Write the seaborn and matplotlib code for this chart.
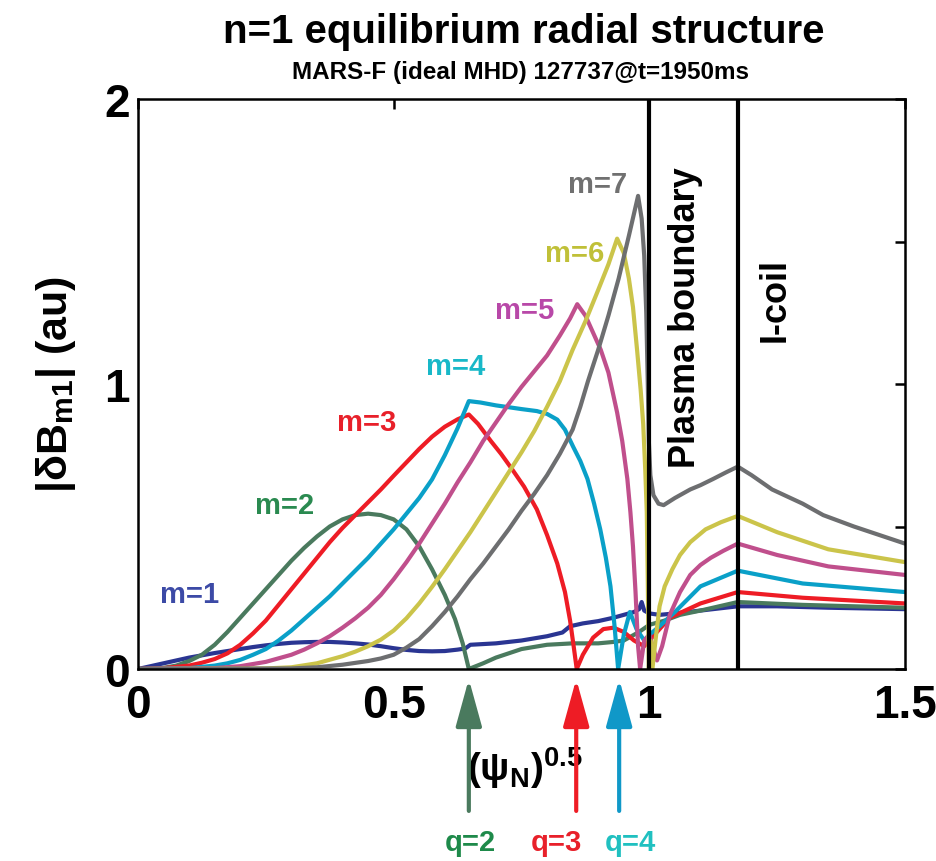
import numpy as np
import pandas as pd
import matplotlib
matplotlib.use("Agg")
import matplotlib.pyplot as plt
import seaborn as sns

# ---- poloidal harmonic amplitudes |dB_m1| versus (psi_N)^0.5 ----
m1_x = [0, 0.025, 0.05, 0.075, 0.1, 0.125, 0.15, 0.175, 0.2, 0.225, 0.25, 0.275, 0.3, 0.325,
        0.35, 0.375, 0.4, 0.425, 0.45, 0.475, 0.5, 0.525, 0.55, 0.575, 0.6, 0.625, 0.64, 0.65,
        0.7, 0.75, 0.8, 0.83, 0.845, 0.87, 0.9, 0.93, 0.95, 0.97, 0.98, 0.985, 0.99, 1.0, 1.02,
        1.05, 1.1, 1.173, 1.25, 1.35, 1.5]
m1_y = [0, 0.01, 0.02, 0.03, 0.04, 0.048, 0.056, 0.063, 0.07, 0.077, 0.083, 0.088, 0.092, 0.094,
        0.095, 0.095, 0.093, 0.09, 0.086, 0.08, 0.073, 0.067, 0.063, 0.062, 0.063, 0.068, 0.072,
        0.085, 0.09, 0.1, 0.115, 0.128, 0.15, 0.16, 0.168, 0.18, 0.19, 0.2, 0.21, 0.235, 0.205,
        0.195, 0.19, 0.195, 0.205, 0.22, 0.22, 0.215, 0.21]

m2_x = [0, 0.025, 0.05, 0.075, 0.1, 0.125, 0.15, 0.175, 0.2, 0.225, 0.25, 0.275, 0.3, 0.325,
        0.35, 0.375, 0.4, 0.425, 0.45, 0.475, 0.5, 0.525, 0.55, 0.575, 0.6, 0.62, 0.635, 0.647,
        0.675, 0.7, 0.75, 0.8, 0.85, 0.9, 0.93, 0.95, 0.98, 1.0, 1.03, 1.06, 1.1, 1.173, 1.3,
        1.5]
m2_y = [0, 0.0, 0.004, 0.012, 0.028, 0.05, 0.085, 0.13, 0.18, 0.23, 0.28, 0.33, 0.38, 0.425,
        0.465, 0.5, 0.525, 0.54, 0.545, 0.54, 0.525, 0.49, 0.43, 0.35, 0.26, 0.175, 0.09, 0.0,
        0.02, 0.04, 0.07, 0.085, 0.09, 0.09, 0.095, 0.1, 0.13, 0.155, 0.17, 0.19, 0.205, 0.235,
        0.225, 0.215]

m3_x = [0, 0.05, 0.1, 0.125, 0.15, 0.175, 0.2, 0.225, 0.25, 0.275, 0.3, 0.325, 0.35, 0.375, 0.4,
        0.425, 0.45, 0.475, 0.5, 0.525, 0.55, 0.575, 0.6, 0.625, 0.647, 0.665, 0.69, 0.71, 0.73,
        0.755, 0.78, 0.8, 0.82, 0.835, 0.845, 0.852, 0.858, 0.87, 0.89, 0.91, 0.93, 0.95, 0.97,
        0.99, 1.01, 1.04, 1.1, 1.173, 1.3, 1.5]
m3_y = [0, 0.003, 0.012, 0.022, 0.035, 0.055, 0.085, 0.125, 0.17, 0.225, 0.28, 0.335, 0.39,
        0.445, 0.495, 0.54, 0.585, 0.63, 0.678, 0.725, 0.772, 0.815, 0.85, 0.876, 0.893, 0.86,
        0.8, 0.755, 0.705, 0.64, 0.56, 0.47, 0.37, 0.27, 0.17, 0.08, 0.0, 0.05, 0.11, 0.14, 0.145,
        0.13, 0.1, 0.08, 0.12, 0.18, 0.23, 0.27, 0.25, 0.23]

m4_x = [0, 0.1, 0.15, 0.175, 0.2, 0.225, 0.25, 0.275, 0.3, 0.325, 0.35, 0.375, 0.4, 0.425, 0.45,
        0.475, 0.5, 0.525, 0.55, 0.575, 0.6, 0.625, 0.647, 0.67, 0.7, 0.75, 0.78, 0.8, 0.82,
        0.835, 0.851, 0.865, 0.879, 0.892, 0.904, 0.915, 0.924, 0.932, 0.939, 0.95, 0.962,
        0.975, 0.99, 1.0, 1.02, 1.05, 1.1, 1.173, 1.3, 1.5]
m4_y = [0, 0.003, 0.012, 0.02, 0.032, 0.05, 0.07, 0.1, 0.135, 0.175, 0.215, 0.255, 0.3, 0.345,
        0.39, 0.44, 0.49, 0.545, 0.6, 0.665, 0.75, 0.845, 0.94, 0.935, 0.925, 0.912, 0.905, 0.895,
        0.875, 0.84, 0.78, 0.73, 0.667, 0.58, 0.49, 0.39, 0.29, 0.15, 0.0, 0.12, 0.2, 0.14, 0.1,
        0.12, 0.15, 0.2, 0.29, 0.345, 0.3, 0.27]

m5_x = [0, 0.15, 0.2, 0.25, 0.3, 0.325, 0.35, 0.375, 0.4, 0.425, 0.45, 0.475, 0.5, 0.525, 0.55,
        0.575, 0.6, 0.625, 0.65, 0.675, 0.7, 0.725, 0.75, 0.775, 0.8, 0.825, 0.845, 0.859, 0.875,
        0.89, 0.905, 0.92, 0.937, 0.947, 0.957, 0.963, 0.968, 0.973, 0.978, 0.982, 0.99, 1.0,
        1.008, 1.015, 1.025, 1.04, 1.06, 1.08, 1.1, 1.12, 1.145, 1.173, 1.25, 1.35, 1.5]
m5_y = [0, 0.003, 0.01, 0.025, 0.05, 0.068, 0.09, 0.115, 0.145, 0.178, 0.215, 0.26, 0.315, 0.375,
        0.44, 0.51, 0.58, 0.655, 0.725, 0.8, 0.865, 0.93, 0.99, 1.045, 1.1, 1.17, 1.23, 1.28,
        1.24, 1.18, 1.12, 1.04, 0.9, 0.8, 0.667, 0.55, 0.43, 0.27, 0.08, 0.0, 0.1, 0.12, 0.07,
        0.03, 0.08, 0.19, 0.27, 0.33, 0.365, 0.39, 0.415, 0.44, 0.4, 0.36, 0.33]

m6_x = [0, 0.25, 0.3, 0.35, 0.4, 0.425, 0.45, 0.475, 0.5, 0.525, 0.55, 0.575, 0.6, 0.625, 0.65,
        0.675, 0.7, 0.725, 0.75, 0.775, 0.8, 0.825, 0.85, 0.875, 0.9, 0.92, 0.937, 0.95, 0.96,
        0.968, 0.976, 0.983, 0.988, 0.992, 0.995, 0.997, 0.999, 1.002, 1.006, 1.012, 1.02, 1.03,
        1.045, 1.06, 1.08, 1.11, 1.14, 1.173, 1.25, 1.35, 1.5]
m6_y = [0, 0.002, 0.006, 0.02, 0.045, 0.061, 0.08, 0.103, 0.135, 0.178, 0.23, 0.288, 0.35, 0.415,
        0.48, 0.55, 0.62, 0.69, 0.76, 0.835, 0.92, 1.01, 1.12, 1.22, 1.33, 1.42, 1.51, 1.46, 1.37,
        1.27, 1.12, 0.98, 0.86, 0.7, 0.55, 0.3, 0.0, 0.1, 0.0, 0.1, 0.22, 0.29, 0.35, 0.4, 0.445,
        0.49, 0.515, 0.537, 0.48, 0.42, 0.375]

m7_x = [0, 0.3, 0.35, 0.4, 0.45, 0.475, 0.5, 0.525, 0.55, 0.575, 0.6, 0.625, 0.65, 0.675, 0.7,
        0.725, 0.75, 0.775, 0.8, 0.825, 0.85, 0.865, 0.88, 0.9, 0.92, 0.94, 0.96, 0.978, 0.985,
        0.99, 0.994, 0.997, 0.999, 1.002, 1.008, 1.018, 1.028, 1.05, 1.08, 1.1, 1.125, 1.15,
        1.173, 1.2, 1.24, 1.3, 1.34, 1.4, 1.5]
m7_y = [0, 0.002, 0.006, 0.015, 0.028, 0.037, 0.05, 0.075, 0.105, 0.15, 0.2, 0.255, 0.315, 0.37,
        0.43, 0.49, 0.555, 0.615, 0.68, 0.755, 0.84, 0.92, 1.01, 1.12, 1.24, 1.37, 1.52, 1.66,
        1.58, 1.45, 1.25, 1.0, 0.8, 0.68, 0.61, 0.58, 0.575, 0.6, 0.63, 0.645, 0.667, 0.69, 0.71,
        0.68, 0.63, 0.58, 0.54, 0.5, 0.44]

series_names = ["m=1", "m=2", "m=3", "m=4", "m=5", "m=6", "m=7"]
line_colors = ["#2a3592", "#4a7a5e", "#ee1c25", "#0aa0c8", "#c04f8c", "#cbc44a", "#6d6e70"]
label_colors = ["#3c4aa6", "#2a8a50", "#e8202a", "#18b8c8", "#b848a8", "#c0c038", "#707070"]
label_x = [0.10, 0.286, 0.448, 0.622, 0.757, 0.853, 0.898]
label_y = [0.262, 0.575, 0.865, 1.063, 1.26, 1.458, 1.703]

# rational surfaces q = 2, 3, 4
q_names = ["q=2", "q=3", "q=4"]
q_pos = [0.647, 0.857, 0.941]
q_text_x = [0.649, 0.818, 0.962]
q_arrow_colors = ["#4a7a5e", "#ee1c25", "#1098c8"]
q_text_colors = ["#1e8a4a", "#e8202a", "#20c0c0"]

plasma_boundary = 1.0
icoil_position = 1.173

xs = [m1_x, m2_x, m3_x, m4_x, m5_x, m6_x, m7_x]
ys = [m1_y, m2_y, m3_y, m4_y, m5_y, m6_y, m7_y]
frames = [pd.DataFrame({"psi": x, "dB": y, "m": n}) for x, y, n in zip(xs, ys, series_names)]
df = pd.concat(frames, ignore_index=True)

sns.set_theme(style="white")
plt.rcParams["font.family"] = ["Liberation Sans", "DejaVu Sans"]
plt.rcParams["font.weight"] = "bold"
plt.rcParams["text.color"] = "black"
plt.rcParams["axes.labelcolor"] = "black"
plt.rcParams["xtick.color"] = "black"
plt.rcParams["ytick.color"] = "black"
plt.rcParams["mathtext.fontset"] = "custom"
plt.rcParams["mathtext.rm"] = "Liberation Sans"
plt.rcParams["mathtext.bf"] = "Liberation Sans:bold"
plt.rcParams["mathtext.it"] = "Liberation Sans:italic"

fig = plt.figure(figsize=(9.36, 8.62), dpi=100)
ax = fig.add_axes([138 / 936, 1 - 670 / 862, 767 / 936, 570 / 862])

for name, col in zip(series_names, line_colors):
    sns.lineplot(data=df[df["m"] == name], x="psi", y="dB", ax=ax, color=col,
                 lw=3.0, sort=False, estimator=None)

ax.axvline(plasma_boundary, color="black", lw=3.0, zorder=5)
ax.axvline(icoil_position, color="black", lw=3.0, zorder=5)

ax.set_xlim(0, 1.5)
ax.set_ylim(0, 2)
ax.set_xticks([0, 0.5, 1, 1.5], labels=["0", "0.5", "1", "1.5"])
ax.set_yticks([0, 0.5, 1, 1.5, 2], labels=["0", "", "1", "", "2"])
ax.tick_params(direction="in", length=7, width=1.8, top=True, right=True,
               labelsize=33, pad=6, colors="black")
ax.tick_params(axis="x", pad=10)
for lab in ax.get_xticklabels() + ax.get_yticklabels():
    lab.set_fontweight("bold")
for sp in ax.spines.values():
    sp.set_linewidth(1.8)
    sp.set_color("black")

ax.set_xlabel("")
ax.set_ylabel(r"|δB$_{\mathbf{m1}}$| (au)", fontsize=31, fontweight="bold", color="black")
ax.yaxis.set_label_coords(-0.078, 0.5)

ax.text(0.505, -0.172, r"$(\mathrm{\psi}_{\mathbf{N}})^{\mathbf{0.5}}$", transform=ax.transAxes,
        ha="center", va="center", fontsize=28, color="black")

for name, col, lx, ly in zip(series_names, label_colors, label_x, label_y):
    ax.text(lx, ly, name, color=col, fontsize=21, fontweight="bold", ha="center", va="center")

ax.text(1.07, 1.235, "Plasma boundary", rotation=90, fontsize=26, fontweight="bold",
        ha="center", va="center", color="black")
ax.text(1.246, 1.298, "I-coil", rotation=90, fontsize=26, fontweight="bold",
        ha="center", va="center", color="black")

trans = ax.get_xaxis_transform()
for name, xq, xt, ac, tc in zip(q_names, q_pos, q_text_x, q_arrow_colors, q_text_colors):
    ax.annotate("", xy=(xq, -0.0175), xycoords=trans, xytext=(xq, -0.249), textcoords=trans,
                arrowprops=dict(arrowstyle="-|>,head_length=29,head_width=8", mutation_scale=1,
                                color=ac, lw=3, shrinkA=0, shrinkB=0), annotation_clip=False)
    ax.text(xt, -0.3035, name, transform=trans, color=tc, fontsize=21, fontweight="bold",
            ha="center", va="center")

fig.text(524 / 936, 1 - 32 / 862, "n=1 equilibrium radial structure", fontsize=29,
         fontweight="bold", ha="center", va="center", color="black")
fig.text(521 / 936, 1 - 73 / 862, "MARS-F (ideal MHD) 127737@t=1950ms", fontsize=17.5,
         fontweight="bold", ha="center", va="center", color="black")

fig.savefig("out.png", dpi=100)
